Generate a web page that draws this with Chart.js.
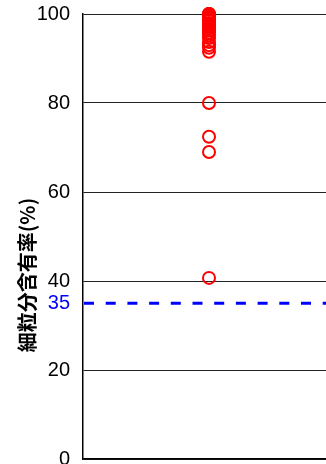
<!DOCTYPE html>
<html>
<head>
<meta charset="utf-8">
<script src="https://cdn.jsdelivr.net/npm/chart.js@4/dist/chart.umd.min.js"></script>
<style>
  html, body { margin: 0; padding: 0; overflow: hidden; background: #fff; }
  #finesChart { position: absolute; left: 0; top: -11px; }
</style>
</head>
<body>
<canvas id="finesChart" width="343" height="495"></canvas>
<script>
// 細粒分含有率 (%) の測定値
const sites = ["試料"];
const finesValues = [
  100, 100, 100, 99.8, 99.5, 99.2, 99.0, 98.7, 98.4, 98.0,
  97.6, 97.2, 96.8, 96.3, 95.8, 95.2, 94.6, 93.7, 93.0, 92.4,
  91.5, 80.0, 72.4, 69.0, 40.7
];
const yTicks = [0, 20, 40, 60, 80, 100];
const threshold = 35;
const yTitle = "細粒分含有率(%)";

const tickFont = { family: "'Liberation Sans Narrow', 'Liberation Sans', sans-serif", size: 20 };

// 基準線 (35%) を破線で描く
const thresholdLine = {
  id: "thresholdLine",
  afterDatasetsDraw(chart) {
    const { ctx, chartArea, scales } = chart;
    const y = scales.y.getPixelForValue(threshold);
    ctx.save();
    ctx.strokeStyle = "#0000ff";
    ctx.lineWidth = 3;
    ctx.setLineDash([10, 11.7]);
    ctx.beginPath();
    ctx.moveTo(chartArea.left + 1, y);
    ctx.lineTo(chartArea.right, y);
    ctx.stroke();
    ctx.restore();
  }
};

// 縦軸タイトル
const axisTitle = {
  id: "axisTitle",
  afterDraw(chart) {
    const ctx = chart.ctx;
    ctx.save();
    ctx.translate(27, 286);
    ctx.rotate(-Math.PI / 2);
    ctx.fillStyle = "#000";
    ctx.font = "bold 20px 'Noto Sans CJK JP'";
    ctx.textAlign = "center";
    ctx.textBaseline = "middle";
    ctx.fillText(yTitle, 0, 0);
    ctx.restore();
  }
};

try {
  const ctxFines = document.getElementById("finesChart");
  new Chart(ctxFines, {
    type: "line",
    data: {
      labels: sites,
      datasets: [
        {
          data: finesValues.map((v) => ({ x: sites[0], y: v })),
          showLine: false,
          pointStyle: "circle",
          pointRadius: 6,
          pointHoverRadius: 6,
          pointBorderWidth: 2,
          pointBorderColor: "#ff0000",
          pointBackgroundColor: "rgba(0,0,0,0)",
          clip: false,
        },
      ],
    },
    options: {
      responsive: false,
      animation: false,
      layout: { padding: { left: 0, right: 0, top: 0, bottom: 0 } },
      plugins: { legend: { display: false }, tooltip: { enabled: false } },
      scales: {
        x: {
          type: "category",
          offset: true,
          ticks: { display: false },
          grid: { display: false, drawTicks: false },
          border: { display: true, color: "#000", width: 1.5 },
        },
        y: {
          min: 0,
          max: 100,
          afterBuildTicks(scale) {
            scale.ticks = yTicks.map((v) => ({ value: v })).concat([{ value: threshold }]);
          },
          afterFit(scale) {
            scale.width = 83;
          },
          ticks: {
            autoSkip: false,
            padding: 13,
            font: tickFont,
            color: (c) => (c.tick && c.tick.value === threshold ? "#0000ff" : "#000"),
          },
          grid: {
            drawTicks: false,
            lineWidth: 1,
            color: (c) => (c.tick && c.tick.value === threshold ? "rgba(0,0,0,0)" : "#222"),
          },
          border: { display: true, color: "#000", width: 1.5 },
        },
      },
    },
    plugins: [thresholdLine, axisTitle],
  });
} catch (error) {
  console.error("Erreur graphique:", error);
}
</script>
</body>
</html>
